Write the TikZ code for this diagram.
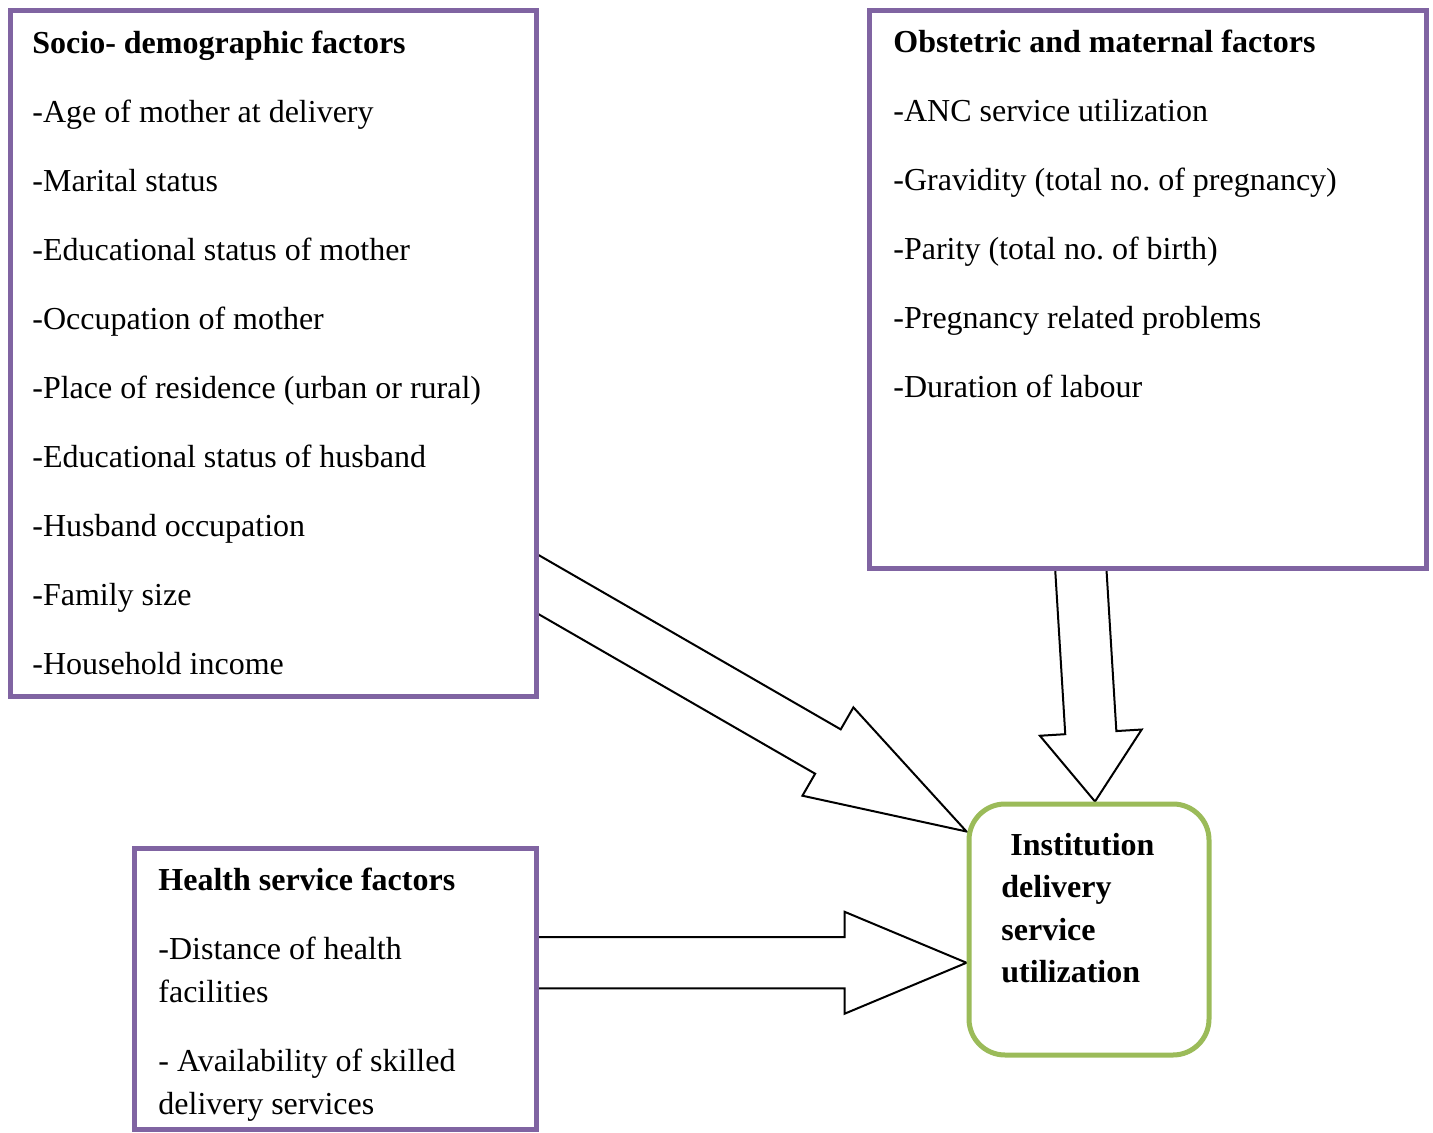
\documentclass[tikz,border=0pt]{standalone}
\usepackage{fontspec}
\setmainfont{Liberation Serif}
\usetikzlibrary{
    positioning,                      % relative placement
    calc,                             % coordinate arithmetic ($(a)!d!90:(b)$)
    fit,                              % boxes around corner points
    backgrounds                       % arrows behind the boxes
}
\definecolor{factor_purple}{RGB}{128,100,162}
\definecolor{outcome_green}{RGB}{155,187,89}
\tikzset{
    factor/.style={
        draw=factor_purple, line width=2.5pt, fill=white,
        inner sep=0pt
    },
    outcome/.style={
        draw=outcome_green, line width=2.5pt, fill=white,
        rounded corners=18pt, inner sep=0pt
    },
    % placed by the baseline of the last line
    itemlist/.style={
        anchor=base west, inner sep=0pt, align=left,
        font=\fontsize{16}{21.5}\selectfont
    },
    hollow/.style={
        draw=black, line width=1pt, fill=white, line join=miter
    }
}
% hollow block arrow: from, to, head length
\newcommand{\hollowarrow}[3]{%
    \coordinate (hb) at ($(#2)!#3!(#1)$);
    \draw[hollow] ($(#1)!12.8pt!90:(#2)$) -- ($(hb)!12.8pt!90:(#2)$)
        -- ($(hb)!25.5pt!90:(#2)$) -- (#2)
        -- ($(hb)!25.5pt!-90:(#2)$) -- ($(hb)!12.8pt!-90:(#2)$)
        -- ($(#1)!12.8pt!-90:(#2)$);
}

\begin{document}
\begin{tikzpicture}[x=0.5pt, y=-0.5pt]
    \useasboundingbox (0,0) rectangle (1433,1133);

    \node[factor, fit={(10,11) (536.5,696)}] (soc) {};
    \node[factor, fit={(869.5,11) (1426,568)}] (obs) {};
    \node[factor, fit={(134,848) (536.5,1129.5)}] (hs) {};
    \node[outcome, fit={(969,804) (1209,1055)}] (inst) {};

    \node[itemlist] (soc-text) at (32,674)
        {\textbf{Socio- demographic factors}\\[13pt]
         -Age of mother at delivery\\[13pt]
         -Marital status\\[13pt]
         -Educational status of mother\\[13pt]
         -Occupation of mother\\[13pt]
         -Place of residence (urban or rural)\\[13pt]
         -Educational status of husband\\[13pt]
         -Husband occupation\\[13pt]
         -Family size\\[13pt]
         -Household income};
    \node[itemlist] (obs-text) at (893,398)
        {\textbf{Obstetric and maternal factors}\\[13pt]
         -ANC service utilization\\[13pt]
         -Gravidity (total no.\ of pregnancy)\\[13pt]
         -Parity (total no.\ of birth)\\[13pt]
         -Pregnancy related problems\\[13pt]
         -Duration of labour};
    \node[itemlist] (hs-text) at (158,1114)
        {\textbf{Health service factors}\\[13pt]
         -Distance of health\\
         facilities\\[13pt]
         - Availability of skilled\\
         delivery services};
    \node[itemlist, font=\bfseries\fontsize{16}{21.25}\selectfont]
        (inst-text) at (1001,982.5)
        {\hspace*{4.5pt}Institution\\ delivery\\ service\\ utilization};

    \coordinate (soc-out) at ($(soc.south east)+(-24,-127.5)$);
    \coordinate (obs-out) at ($(obs.south)+(-68,-18.5)$);
    \coordinate (hs-out) at ($(hs.east)+(-24,-26)$);
    \coordinate (inst-in1) at ($(inst.north west)+(0,30)$);
    \coordinate (inst-in2) at ($(inst.north)+(6,0)$);
    \coordinate (inst-in3) at (inst.west |- hs-out);

    \begin{scope}[on background layer]
        \hollowarrow{soc-out}{inst-in1}{80pt}
        \hollowarrow{obs-out}{inst-in2}{34.5pt}
        \hollowarrow{hs-out}{inst-in3}{61pt}
    \end{scope}
\end{tikzpicture}
\end{document}
